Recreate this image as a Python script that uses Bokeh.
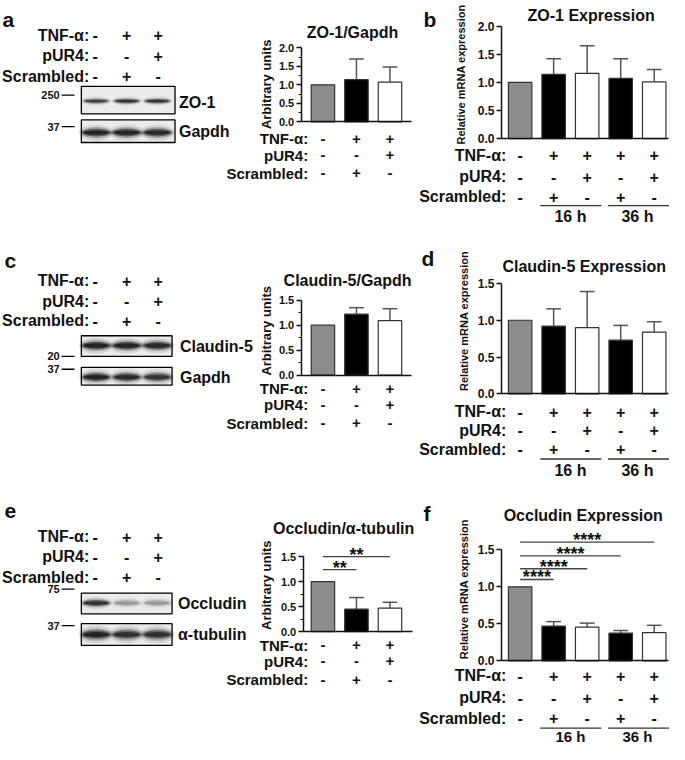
import math
from bokeh.plotting import figure
from bokeh.models import Range1d, LinearAxis, FixedTicker, PrintfTickFormatter
from bokeh.core.properties import value
from bokeh.embed import file_html
from bokeh.resources import INLINE

# ---------------- data ----------------
row_labels = ["TNF-α:", "pUR4:", "Scrambled:"]
small_tnf = ["-", "+", "+"]
small_pur4 = ["-", "-", "+"]
small_scr = ["-", "+", "-"]
big_tnf = ["-", "+", "+", "+", "+"]
big_pur4 = ["-", "-", "+", "-", "+"]
big_scr = ["-", "+", "-", "+", "-"]
hour_labels = ["16 h", "36 h"]

small_colors = ["#8c8c8c", "#000000", "#ffffff"]
big_colors = ["#8c8c8c", "#000000", "#ffffff", "#000000", "#ffffff"]

zo1_wb_mean = [1.0, 1.14, 1.07]
zo1_wb_err = [0.0, 0.56, 0.41]
zo1_mrna_mean = [1.0, 1.14, 1.16, 1.07, 1.01]
zo1_mrna_err = [0.0, 0.28, 0.49, 0.35, 0.22]
cld5_wb_mean = [1.0, 1.22, 1.09]
cld5_wb_err = [0.0, 0.13, 0.24]
cld5_mrna_mean = [1.0, 0.92, 0.90, 0.73, 0.84]
cld5_mrna_err = [0.0, 0.235, 0.49, 0.20, 0.14]
ocln_wb_mean = [1.0, 0.45, 0.47]
ocln_wb_err = [0.0, 0.23, 0.115]
ocln_mrna_mean = [1.0, 0.47, 0.455, 0.375, 0.38]
ocln_mrna_err = [0.0, 0.06, 0.055, 0.035, 0.10]

ocln_wb_sig_to = [1, 2]
ocln_wb_sig_y = [1.24, 1.50]
ocln_wb_sig_txt = ["**", "**"]
ocln_mrna_sig_to = [1, 2, 3, 4]
ocln_mrna_sig_y = [1.10, 1.245, 1.42, 1.605]
ocln_mrna_sig_txt = ["****", "****", "****", "****"]

ticks_20 = [0.0, 0.5, 1.0, 1.5, 2.0]
ticks_15 = [0.0, 0.5, 1.0, 1.5]
minor_20 = [0.25, 0.75, 1.25, 1.75]
minor_15 = [0.25, 0.75, 1.25]

# western blot band intensities (lane 1..3)
zo1_band = [0.75, 0.85, 0.85]
gapdh_a_band = [1.0, 1.0, 0.95]
cld5_band = [1.0, 1.0, 0.95]
gapdh_c_band = [1.0, 0.95, 0.85]
ocln_band = [0.9, 0.28, 0.28]
tub_band = [1.0, 0.9, 0.9]

# ---------------- canvas ----------------
S = 0.986
W, H = 669, 744
XL, YT = 3.0, 3.0
XR, YB = XL + W / S, YT + H / S

p = figure(width=W, height=H, x_range=Range1d(XL, XR), y_range=Range1d(YB, YT),
           min_border=0, x_axis_location=None, y_axis_location=None,
           toolbar_location=None, output_backend="svg")
p.outline_line_color = None
p.xgrid.visible = False
p.ygrid.visible = False

FONT = value("Liberation Sans")
INK = "#111111"


def txt(x, y, texts, size, align="left", baseline="middle", angle=0.0,
        xr="default", yr="default", style="bold", y_offset=0):
    p.text(x=x, y=y, text=texts, text_font=FONT, text_font_size=f"{size}px",
           text_font_style=style, text_align=align, text_baseline=baseline,
           angle=angle, text_color=INK, x_range_name=xr, y_range_name=yr,
           y_offset=y_offset)


def chart(name, x0, dx, axis_x, axis_end, yb, k, means, errs, colors, ticks, minor,
          tick_size, bar_w=0.7):
    p.extra_x_ranges[name] = Range1d((XL - x0) / dx, (XR - x0) / dx)
    p.extra_y_ranges[name] = Range1d((yb - YB) / k, (yb - YT) / k)
    idx = list(range(len(means)))
    ei = [i for i in idx if errs[i] > 0]
    tops = [means[i] + errs[i] for i in ei]
    cap = 0.22
    p.segment(x0=ei, y0=[means[i] for i in ei], x1=ei, y1=tops, line_color="#555555",
              line_width=1.5, x_range_name=name, y_range_name=name)
    p.segment(x0=[i - cap for i in ei], y0=tops, x1=[i + cap for i in ei], y1=tops,
              line_color="#555555", line_width=1.5, x_range_name=name, y_range_name=name)
    p.vbar(x=idx, top=means, bottom=0, width=bar_w, fill_color=colors,
           line_color="#333333", line_width=1.2, x_range_name=name, y_range_name=name)

    yax = LinearAxis(x_range_name="default", y_range_name=name, fixed_location=axis_x,
                     bounds=(0, ticks[-1]),
                     ticker=FixedTicker(ticks=ticks, minor_ticks=minor),
                     formatter=PrintfTickFormatter(format="%.1f"))
    yax.axis_line_color = INK
    yax.axis_line_width = 1.5
    yax.major_tick_line_color = INK
    yax.major_tick_line_width = 1.5
    yax.major_tick_out = 5
    yax.major_tick_in = 0
    yax.minor_tick_line_color = INK if minor else None
    yax.minor_tick_line_width = 1.2
    yax.minor_tick_out = 3
    yax.minor_tick_in = 0
    yax.major_label_text_font = "Liberation Sans"
    yax.major_label_text_font_style = "bold"
    yax.major_label_text_font_size = f"{tick_size}px"
    yax.major_label_text_color = INK
    yax.major_label_standoff = 2
    p.add_layout(yax, "left")

    xax = LinearAxis(x_range_name=name, y_range_name=name, fixed_location=0,
                     bounds=((axis_x - x0) / dx, (axis_end - x0) / dx),
                     ticker=FixedTicker(ticks=[]))
    xax.axis_line_color = INK
    xax.axis_line_width = 1.5
    xax.major_tick_line_color = None
    xax.minor_tick_line_color = None
    xax.major_label_text_font_size = "0px"
    p.add_layout(xax, "below")


def table(name, rows_y, label_x, size, cols):
    for lab, vals, y in zip(row_labels, cols, rows_y):
        txt([label_x], [y], [lab], size, align="right")
        txt(list(range(len(vals))), [y] * len(vals), vals, size, align="center", xr=name)


def hours(name, ul_y, hr_y, size):
    p.segment(x0=[0.6, 2.62], x1=[2.42, 4.45], y0=[ul_y, ul_y], y1=[ul_y, ul_y],
              line_color="#333333", line_width=1.3, x_range_name=name)
    txt([1.5, 3.5], [hr_y, hr_y], hour_labels, size, align="center", xr=name)


def sig(name, to_idx, levels, labels, size, off):
    n = len(to_idx)
    p.segment(x0=[0] * n, x1=to_idx, y0=levels, y1=levels, line_color="#444444",
              line_width=1.3, x_range_name=name, y_range_name=name)
    txt([t / 2 for t in to_idx], levels, labels, size, align="center",
        baseline="middle", xr=name, yr=name, y_offset=off)


LANES = [100, 131, 162]
BLOT_COLS = [99, 131, 163]


def blot(x0, x1, y0, y1, band_y, band_h, band_w, intens):
    p.quad(left=x0, right=x1, top=y0, bottom=y1, fill_color="#ebebeb",
           line_color="black", line_width=1.3)
    for sw, sh, a in [(1.18, 2.3, 0.10), (1.08, 1.6, 0.22), (0.98, 1.1, 0.45), (0.86, 0.65, 0.6)]:
        p.ellipse(x=LANES, y=[band_y] * 3, width=band_w * sw, height=band_h * sh,
                  fill_color="black", fill_alpha=[a * v for v in intens], line_color=None)


def blot_table(rows_y, cols, size=16):
    for lab, vals, y in zip(row_labels, cols, rows_y):
        txt([93], [y], [lab], size, align="right")
        txt(BLOT_COLS, [y] * 3, vals, size, align="center")


def mw(label, y):
    txt([63], [y], [label], 11, align="right")
    p.segment(x0=[65], x1=[78], y0=[y], y1=[y], line_color="black", line_width=1.3)


small_cols = [small_tnf, small_pur4, small_scr]
big_cols = [big_tnf, big_pur4, big_scr]
VERT = math.pi / 2

# ---------------- panel letters ----------------
txt([5, 432, 7, 430, 7, 432], [22, 22, 267, 265, 521, 523],
    ["a", "b", "c", "d", "e", "f"], 21, align="left", baseline="alphabetic")

# ---------------- row 1 ----------------
blot_table([38, 59, 80], small_cols)
blot(85, 180, 90, 118, 105, 4.0, 26, zo1_band)
blot(85, 180, 124, 147, 137, 7.0, 30, gapdh_a_band)
mw("250", 99)
mw("37", 131)
txt([184, 184], [106, 136], ["ZO-1", "Gapdh"], 16)

chart("a", 330, 34, 308, 420, 126, 37.5, zo1_wb_mean, zo1_wb_err, small_colors,
      ticks_20, minor_20, 11)
txt([360], [35], ["ZO-1/Gapdh"], 16, align="center")
txt([273], [88], ["Arbitrary units"], 13, align="center", angle=VERT)
table("a", [143, 160, 178], 315, 15, small_cols)

chart("b", 530, 34, 511, 680, 143, 57, zo1_mrna_mean, zo1_mrna_err, big_colors,
      ticks_20, [], 12)
txt([602], [18], ["ZO-1 Expression"], 16, align="center")
txt([470], [78], ["Relative mRNA expression"], 11, align="center", angle=VERT)
table("b", [160, 182, 202], 516, 16, big_cols)
hours("b", 211, 222, 16)

# ---------------- row 2 ----------------
blot_table([287, 308, 328], small_cols)
blot(85, 177, 343, 364, 353, 7.0, 30, cld5_band)
blot(85, 177, 375, 393, 385, 7.0, 29, gapdh_c_band)
mw("20", 364)
mw("37", 377)
txt([185, 185], [354, 385], ["Claudin-5", "Gapdh"], 16)

chart("c", 330, 34, 308, 420, 383, 50.7, cld5_wb_mean, cld5_wb_err, small_colors,
      ticks_15, minor_15, 11)
txt([355], [287], ["Claudin-5/Gapdh"], 16, align="center")
txt([273], [338], ["Arbitrary units"], 13, align="center", angle=VERT)
table("c", [397, 413, 432], 315, 15, small_cols)

chart("d", 530, 34, 511, 680, 402, 74.7, cld5_mrna_mean, cld5_mrna_err, big_colors,
      ticks_15, [], 12)
txt([595], [273], ["Claudin-5 Expression"], 16, align="center")
txt([473], [328], ["Relative mRNA expression"], 11, align="center", angle=VERT)
table("d", [420, 439, 458], 516, 16, big_cols)
hours("d", 468, 480, 16)

# ---------------- row 3 ----------------
blot_table([547, 567, 588], small_cols)
blot(85, 177, 604, 625, 614, 5.5, 28, ocln_band)
blot(85, 177, 635, 657, 646, 8.0, 30, tub_band)
mw("75", 600)
mw("37", 637)
txt([183, 183], [615, 646], ["Occludin", "α-tubulin"], 16)

chart("e", 330, 34, 310, 421, 643, 50.7, ocln_wb_mean, ocln_wb_err, small_colors,
      ticks_15, minor_15, 11)
txt([351], [538], ["Occludin/α-tubulin"], 16, align="center")
txt([273], [596], ["Arbitrary units"], 13, align="center", angle=VERT)
table("e", [657, 673, 692], 315, 15, small_cols)
sig("e", ocln_wb_sig_to, ocln_wb_sig_y, ocln_wb_sig_txt, 18, -2)

chart("f", 530, 34, 511, 680, 672.7, 75, ocln_mrna_mean, ocln_mrna_err, big_colors,
      ticks_15, [], 12)
txt([594], [525], ["Occludin Expression"], 16, align="center")
txt([473], [600], ["Relative mRNA expression"], 11, align="center", angle=VERT)
table("f", [688, 710, 731], 516, 16, big_cols)
hours("f", 741, 749, 15)
sig("f", ocln_mrna_sig_to, ocln_mrna_sig_y, ocln_mrna_sig_txt, 18, -2)

open("out.html", "w").write(file_html(p, INLINE, title="TNF-alpha tight junctions"))
